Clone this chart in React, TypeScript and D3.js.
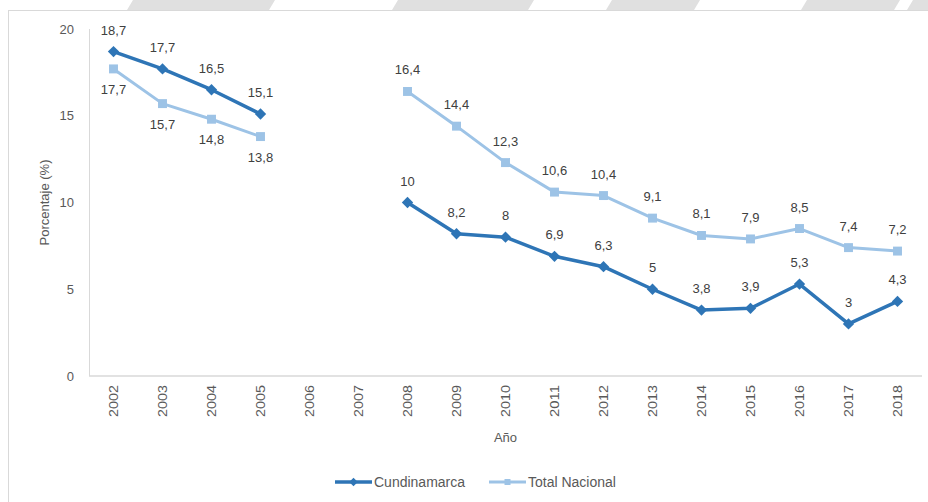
import React, { useEffect, useRef } from 'react';
import * as d3 from 'd3';

const years = ['2002', '2003', '2004', '2005', '2006', '2007', '2008', '2009', '2010', '2011', '2012', '2013', '2014', '2015', '2016', '2017', '2018'];
const cundinamarca: (number | null)[] = [18.7, 17.7, 16.5, 15.1, null, null, 10, 8.2, 8, 6.9, 6.3, 5, 3.8, 3.9, 5.3, 3, 4.3];
const totalNacional: (number | null)[] = [17.7, 15.7, 14.8, 13.8, null, null, 16.4, 14.4, 12.3, 10.6, 10.4, 9.1, 8.1, 7.9, 8.5, 7.4, 7.2];
const yTicks = [0, 5, 10, 15, 20];

const DARK = '#2e75b6';
const LIGHT = '#9dc3e6';
const TEXT = '#595959';
const FONT = '"Liberation Sans", Arial, sans-serif';

const App: React.FC = () => {
  const svgRef = useRef<SVGSVGElement>(null);

  useEffect(() => {
    if (!svgRef.current) return;
    const svg = d3.select(svgRef.current);
    svg.selectAll('*').remove();

    const width = 928;
    const height = 502;

    svg.append('rect').attr('width', width).attr('height', height).attr('fill', '#fff');

    // grey stripes at the very top (page background)
    const stripes: [number, number][] = [[130, 272], [395, 531], [609, 697], [804, 897], [910, 940]];
    svg.selectAll('.stripe')
      .data(stripes)
      .enter()
      .append('path')
      .attr('d', d => `M${d[0] + 3},0 L${d[1] + 3},0 L${d[1] - 3},10 L${d[0] - 3},10 Z`)
      .attr('fill', '#e0e0e0');

    // chart frame
    svg.append('rect')
      .attr('x', 8.5).attr('y', 10.5)
      .attr('width', 940).attr('height', 520)
      .attr('fill', '#fff')
      .attr('stroke', '#d9d9d9');

    const left = 89, right = 922, top = 29, bottom = 376;

    const x = d3.scaleBand<string>().domain(years).range([left, right]);
    const cx = (yr: string) => (x(yr) as number) + x.bandwidth() / 2;
    const y = d3.scaleLinear().domain([0, 20]).range([bottom, top]);

    const g = svg.append('g');

    // axes lines
    g.append('line')
      .attr('x1', left + 0.5).attr('x2', left + 0.5)
      .attr('y1', top).attr('y2', bottom)
      .attr('stroke', '#d9d9d9').attr('stroke-width', 1);
    g.append('line')
      .attr('x1', left).attr('x2', right)
      .attr('y1', bottom).attr('y2', bottom)
      .attr('stroke', '#d9d9d9').attr('stroke-width', 1.5);

    // y tick labels
    g.selectAll('.ytick')
      .data(yTicks)
      .enter()
      .append('text')
      .attr('x', 74)
      .attr('y', d => y(d) + 4.5)
      .attr('text-anchor', 'end')
      .attr('font-family', FONT)
      .attr('font-size', 13)
      .attr('fill', TEXT)
      .text(d => d);

    // x tick labels
    g.selectAll('.xtick')
      .data(years)
      .enter()
      .append('text')
      .attr('transform', d => `translate(${cx(d) + 4.5},385) rotate(-90)`)
      .attr('text-anchor', 'end')
      .attr('font-family', FONT)
      .attr('font-size', 13)
      .attr('textLength', 32)
      .attr('lengthAdjust', 'spacingAndGlyphs')
      .attr('fill', TEXT)
      .text(d => d);

    // axis titles
    g.append('text')
      .attr('x', (left + right) / 2)
      .attr('y', 442)
      .attr('text-anchor', 'middle')
      .attr('font-family', FONT)
      .attr('font-size', 13)
      .attr('fill', TEXT)
      .text('Año');
    g.append('text')
      .attr('transform', `translate(49,${(top + bottom) / 2}) rotate(-90)`)
      .attr('text-anchor', 'middle')
      .attr('font-family', FONT)
      .attr('font-size', 13)
      .attr('fill', TEXT)
      .text('Porcentaje (%)');

    const line = d3.line<number | null>()
      .defined(d => d !== null)
      .x((_, i) => cx(years[i]))
      .y(d => y(d as number));

    const series = [
      { values: totalNacional, color: LIGHT, width: 3, rotate: 0, size: 80, labelBelow: (i: number) => i < 4 },
      { values: cundinamarca, color: DARK, width: 3.5, rotate: 45, size: 64, labelBelow: (_: number) => false },
    ];

    series.forEach(s => {
      g.append('path')
        .datum(s.values)
        .attr('fill', 'none')
        .attr('stroke', s.color)
        .attr('stroke-width', s.width)
        .attr('stroke-linejoin', 'round')
        .attr('d', line);

      const pts = s.values
        .map((v, i) => ({ v, i }))
        .filter(p => p.v !== null) as { v: number; i: number }[];

      const sym = d3.symbol().type(d3.symbolSquare).size(s.size);

      g.selectAll(null)
        .data(pts)
        .enter()
        .append('path')
        .attr('transform', p => `translate(${cx(years[p.i])},${y(p.v)}) rotate(${s.rotate})`)
        .attr('d', sym)
        .attr('fill', s.color);

      g.selectAll(null)
        .data(pts)
        .enter()
        .append('text')
        .attr('x', p => cx(years[p.i]))
        .attr('y', p => y(p.v) + (s.labelBelow(p.i) ? 25 : -17))
        .attr('text-anchor', 'middle')
        .attr('font-family', FONT)
        .attr('font-size', 13)
        .attr('fill', '#404040')
        .text(p => String(p.v).replace('.', ','));
    });

    // legend
    const legend = [
      { name: 'Cundinamarca', color: DARK, rotate: 45, x: 335, w: 3.5 },
      { name: 'Total Nacional', color: LIGHT, rotate: 0, x: 489, w: 3 },
    ];
    legend.forEach(l => {
      const lg = svg.append('g').attr('transform', `translate(${l.x},482)`);
      lg.append('line').attr('x1', 0).attr('x2', 37).attr('y1', 0).attr('y2', 0)
        .attr('stroke', l.color).attr('stroke-width', l.w);
      lg.append('path').attr('transform', `translate(18.5,0) rotate(${l.rotate})`)
        .attr('d', d3.symbol().type(d3.symbolSquare).size(36)).attr('fill', l.color);
      lg.append('text').attr('x', 39).attr('y', 5)
        .attr('font-family', FONT).attr('font-size', 14).attr('fill', TEXT)
        .text(l.name);
    });
  }, []);

  return (
    <svg
      ref={svgRef}
      width={928}
      height={502}
      style={{ position: 'absolute', left: 0, top: 0 }}
    />
  );
};

export default App;
